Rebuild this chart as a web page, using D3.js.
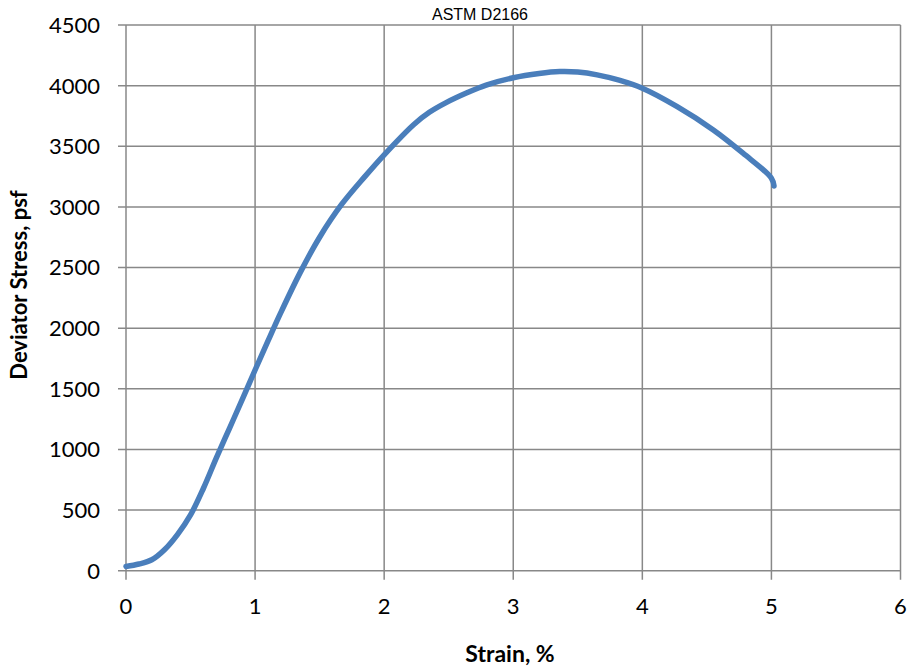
<!DOCTYPE html>
<html><head><meta charset="utf-8">
<script src="https://cdn.jsdelivr.net/npm/d3@7"></script>
<style>body{margin:0;background:#fff}</style>
</head><body>
<svg id="c" width="907" height="668"></svg>
<script>
const strain = [0, 0.1, 0.2, 0.3, 0.4, 0.5, 0.6, 0.7, 0.8, 0.9, 1.0, 1.1, 1.2, 1.35, 1.5, 1.67, 1.85, 2.0, 2.23, 2.35, 2.48, 2.65, 2.79, 3.0, 3.2, 3.36, 3.5, 3.65, 3.82, 4.0, 4.27, 4.55, 4.78, 5.0, 5.02];
const stress = [35, 55, 90, 175, 300, 460, 680, 930, 1170, 1410, 1655, 1895, 2130, 2460, 2750, 3020, 3250, 3430, 3680, 3780, 3860, 3945, 4005, 4065, 4100, 4116, 4112, 4089, 4045, 3979, 3827, 3635, 3443, 3237, 3173];
const xTicks = [0, 1, 2, 3, 4, 5, 6];
const yTicks = [0, 500, 1000, 1500, 2000, 2500, 3000, 3500, 4000, 4500];
const title = "ASTM D2166";
const xTitle = "Strain, %";
const yTitle = "Deviator Stress, psf";

const svg = d3.select("#c");
const L = 126, R = 900.5, T = 25, B = 570.7;
const x = d3.scaleLinear().domain([0, 6]).range([L, R]);
const y = d3.scaleLinear().domain([0, 4500]).range([B, T]);
const grid = "#888888";
const font = "Lato, 'Open Sans', sans-serif";

// grid
svg.append("g").selectAll("line").data(xTicks).join("line")
  .attr("x1", d => x(d)).attr("x2", d => x(d)).attr("y1", T).attr("y2", B + 9)
  .attr("stroke", grid).attr("stroke-width", 1.5);
svg.append("g").selectAll("line").data(yTicks).join("line")
  .attr("x1", L - 8).attr("x2", R).attr("y1", d => y(d)).attr("y2", d => y(d))
  .attr("stroke", grid).attr("stroke-width", 1.5);

// tick labels
svg.append("g").selectAll("text").data(yTicks).join("text")
  .attr("x", 100).attr("y", d => y(d)).attr("dy", "0.36em")
  .attr("text-anchor", "end").attr("font-family", font).attr("font-size", 22)
  .attr("fill", "#000").text(d => d);
svg.append("g").selectAll("text").data(xTicks).join("text")
  .attr("x", d => x(d)).attr("y", 614)
  .attr("text-anchor", "middle").attr("font-family", font).attr("font-size", 22)
  .attr("fill", "#000").text(d => d);

// curve
svg.append("path").datum(strain.map((s, i) => [s, stress[i]]))
  .attr("d", d3.line().x(d => x(d[0])).y(d => y(d[1])).curve(d3.curveCatmullRom))
  .attr("fill", "none").attr("stroke", "#4a7ebb").attr("stroke-width", 5.5)
  .attr("stroke-linecap", "round").attr("stroke-linejoin", "round");

// titles
svg.append("text").attr("x", 480).attr("y", 20).attr("text-anchor", "middle")
  .attr("font-family", "'Liberation Sans', Arial, sans-serif").attr("font-size", 16)
  .text(title);
svg.append("text").attr("x", 510).attr("y", 662).attr("text-anchor", "middle")
  .attr("font-family", font).attr("font-weight", "bold").attr("font-size", 23)
  .text(xTitle);
svg.append("text").attr("transform", "translate(27,285) rotate(-90)")
  .attr("text-anchor", "middle")
  .attr("font-family", font).attr("font-weight", "bold").attr("font-size", 22)
  .text(yTitle);
</script>
</body></html>
